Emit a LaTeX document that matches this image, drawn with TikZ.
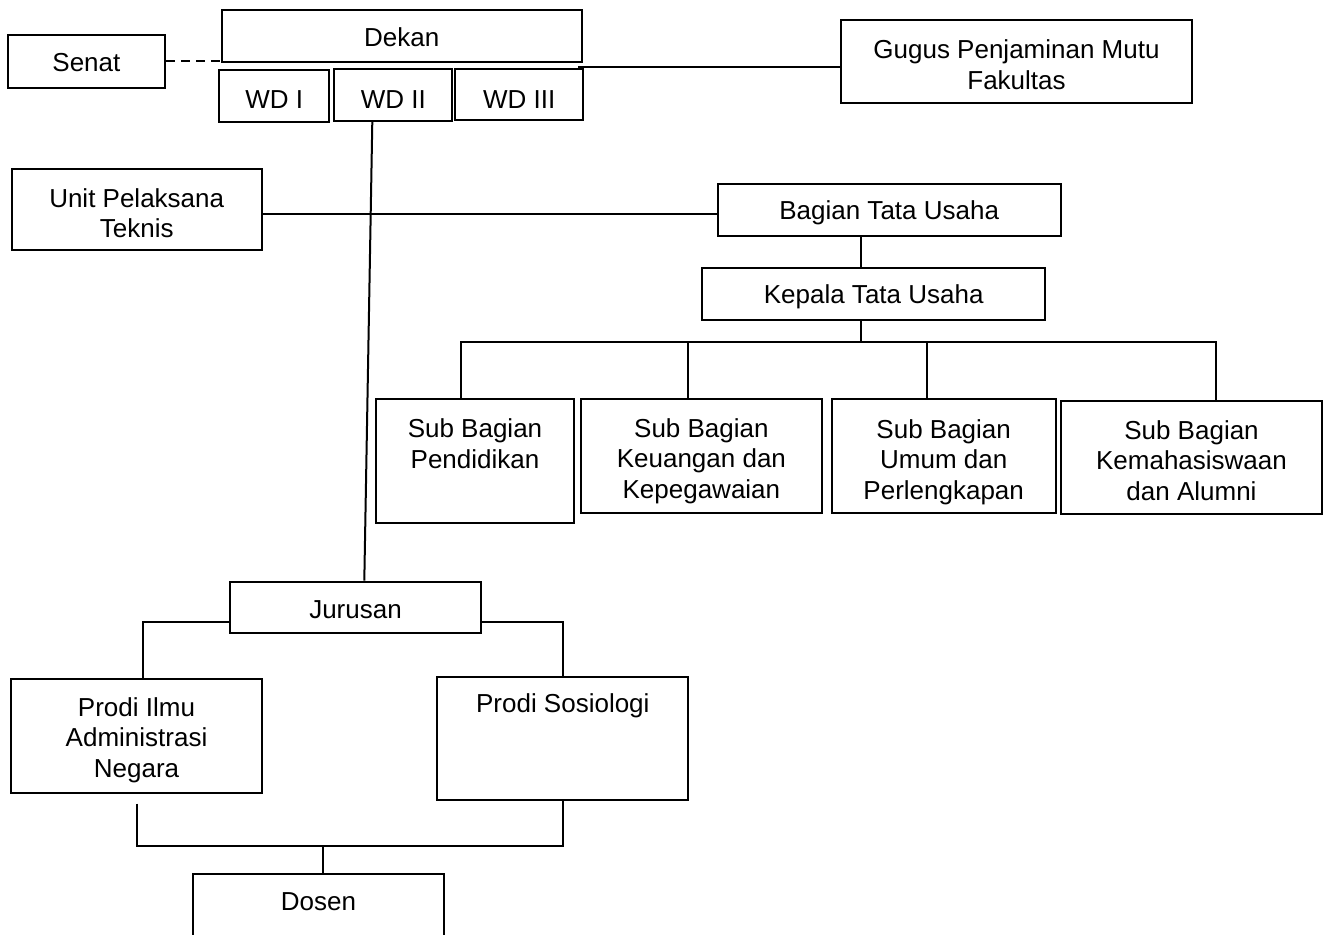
\documentclass[tikz,border=0pt]{standalone}
\usepackage{fontspec}
\setmainfont{Liberation Sans}

\begin{document}
\begin{tikzpicture}[x=1pt,y=-1pt,line width=2pt,
  org node/.style={draw,anchor=north,inner sep=0pt,align=flush center,font=\fontsize{26pt}{30.5pt}\selectfont}]
\useasboundingbox (0,0) rectangle (1327,934);
% pimpinan
\node[org node,minimum width=157.3pt,text height=36pt,text depth=16.4pt] (senat) at (86.4,34.3) {Senat};
\node[org node,minimum width=360pt,text height=36pt,text depth=15.7pt] (dekan) at (401.7,9.3) {Dekan};
\node[org node,minimum width=110pt,text height=38.3pt,text depth=13.4pt] (wd1) at (274.3,69) {WD I};
\node[org node,minimum width=118pt,text height=39pt,text depth=12.7pt] (wd2) at (393.3,68.3) {WD II};
\node[org node,minimum width=128pt,text height=39pt,text depth=12pt] (wd3) at (519.3,68.3) {WD III};
\node[org node,minimum width=351pt,text width=330pt,text height=38.3pt,text depth=44.7pt] (gpm) at (1016.5,19.3) {Gugus Penjaminan Mutu\\Fakultas};
% tata usaha
\node[org node,minimum width=250pt,text width=240pt,text height=38.3pt,text depth=43.3pt] (upt) at (136.7,167.7) {Unit Pelaksana\\Teknis};
\node[org node,minimum width=343pt,text height=35.9pt,text depth=16.1pt] (bagian) at (889.2,182.7) {Bagian Tata Usaha};
\node[org node,minimum width=342.7pt,text height=35.9pt,text depth=16.4pt] (kepala) at (873.7,266.7) {Kepala Tata Usaha};
\node[org node,minimum width=198pt,text width=186pt,text height=38.5pt,text depth=85.5pt] (sbpend) at (475,398) {Sub Bagian\\Pendidikan};
\node[org node,minimum width=240.7pt,text width=230pt,text height=38.3pt,text depth=75.4pt] (sbkeu) at (701.4,398) {Sub Bagian\\Keuangan dan\\Kepegawaian};
\node[org node,minimum width=224pt,text width=214pt,text height=39.3pt,text depth=74.4pt] (sbumum) at (943.7,398) {Sub Bagian\\Umum dan\\Perlengkapan};
\node[org node,minimum width=261pt,text width=250pt,text height=38.6pt,text depth=74.7pt] (sbmhs) at (1191.5,399.7) {Sub Bagian\\Kemahasiswaan\\dan Alumni};
% jurusan
\node[org node,minimum width=251pt,text height=36.9pt,text depth=14.7pt] (jurusan) at (355.5,580.7) {Jurusan};
\node[org node,minimum width=251pt,text width=240pt,text height=36.7pt,text depth=76.7pt] (prodian) at (136.5,678.3) {Prodi Ilmu\\Administrasi\\Negara};
\node[org node,minimum width=251pt,text height=35.3pt,text depth=88pt] (sosiologi) at (562.8,675.7) {Prodi Sosiologi};
\node[org node,minimum width=251.3pt,text height=36pt,text depth=84pt] (dosen) at (318.4,873.3) {Dosen};

\coordinate (gpmstub) at (578,66.7);
\coordinate (tubus) at (861,342.3);
\coordinate (dosenbus) at (323.3,845.7);

\draw[dash pattern=on 9pt off 6pt] (senat.east) -- (senat.east -| dekan.west);
\draw (gpmstub) -- (gpmstub -| gpm.west);
\draw ([xshift=-21pt]wd2.south) -- ([xshift=8.8pt]jurusan.north);
\draw ([yshift=-4.8pt]upt.east) -- ([yshift=-4.8pt]upt.east -| bagian.west);
\draw (bagian.south -| tubus) -- (kepala.north -| tubus);
\draw (kepala.south -| tubus) -- (tubus);
\draw (sbpend.north -| 461,0) -- (tubus -| 461,0) -- (tubus -| 1215.7,0) -- (sbmhs.north -| 1215.7,0);
\foreach \sb/\dx in {sbkeu/688,sbumum/927}
  \draw (tubus -| \dx,0) -- (\sb.north -| \dx,0);
\draw ([yshift=-14.5pt]jurusan.west) -| ([xshift=6.2pt]prodian.north);
\draw ([yshift=-14.5pt]jurusan.east) -| (sosiologi.north);
\draw ([yshift=-10pt]prodian.south) |- (dosenbus) -| (sosiologi.south);
\draw (dosenbus) -- (dosen.north -| dosenbus);
\end{tikzpicture}
\end{document}
